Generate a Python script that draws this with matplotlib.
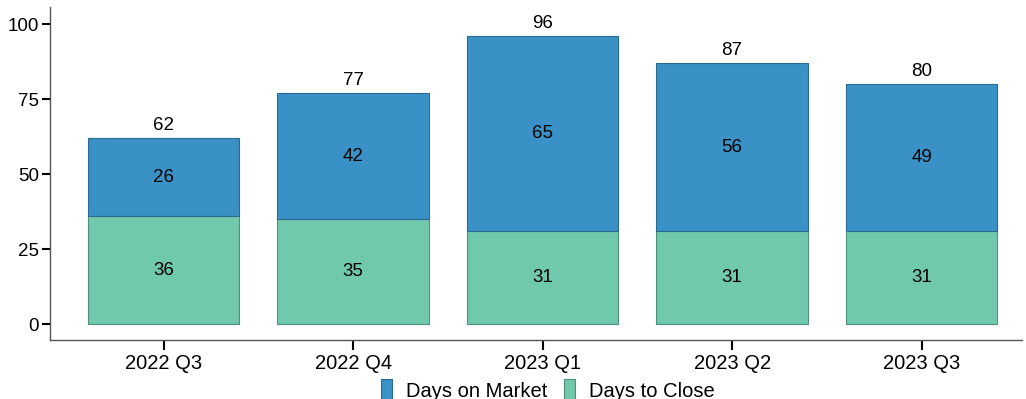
import matplotlib.pyplot as plt
import numpy as np

plt.rcParams['font.family'] = ['Liberation Sans', 'DejaVu Sans']

# Quarterly data
quarters = ['2022 Q3', '2022 Q4', '2023 Q1', '2023 Q2', '2023 Q3']
days_to_close = [36, 35, 31, 31, 31]
days_on_market = [26, 42, 65, 56, 49]

blue = '#3a91c6'
green = '#70c9ad'

fig = plt.figure(figsize=(10.26, 3.99), dpi=100)
ax = fig.add_axes([50/1026, 59/399, 972/1026, 333/399])

x = np.arange(len(quarters))
close_bars = ax.bar(x, days_to_close, width=0.8, color=green, edgecolor='#4f8f7b', linewidth=0.8,
                    label='Days to Close')
market_bars = ax.bar(x, days_on_market, width=0.8, bottom=days_to_close, color=blue,
                     edgecolor='#2a6a91', linewidth=0.8, label='Days on Market')

# Segment labels and totals
for i in range(len(quarters)):
    ax.text(x[i], days_to_close[i] / 2, str(days_to_close[i]), ha='center', va='center', fontsize=13.5)
    ax.text(x[i], days_to_close[i] + days_on_market[i] / 2, str(days_on_market[i]),
            ha='center', va='center', fontsize=13.5)
    total = days_to_close[i] + days_on_market[i]
    ax.annotate(str(total), (x[i], total), xytext=(0, 3), textcoords='offset points',
                ha='center', va='bottom', fontsize=13.5)

ax.set_xlim(-0.6, 4.53)
ax.set_ylim(-5.3, 105.7)
ax.set_yticks([0, 25, 50, 75, 100])
ax.set_xticks(x)
ax.set_xticklabels(quarters)
ax.tick_params(axis='y', labelsize=13.5, length=6, width=1.5, color='black', pad=2)
ax.tick_params(axis='x', labelsize=14.5, length=7, width=1.5, color='black', pad=3)

for side in ['top', 'right']:
    ax.spines[side].set_visible(False)
for side in ['left', 'bottom']:
    ax.spines[side].set_color('#555555')
    ax.spines[side].set_linewidth(1)

handles = [market_bars, close_bars]
fig.legend(handles, ['Days on Market', 'Days to Close'], loc='center',
           bbox_to_anchor=(548/1026, 1 - 390/399), ncol=2, frameon=False, fontsize=14.5,
           handlelength=0.55, handleheight=1.3, handletextpad=0.7, columnspacing=0.8)

fig.savefig('out.png', dpi=100)
